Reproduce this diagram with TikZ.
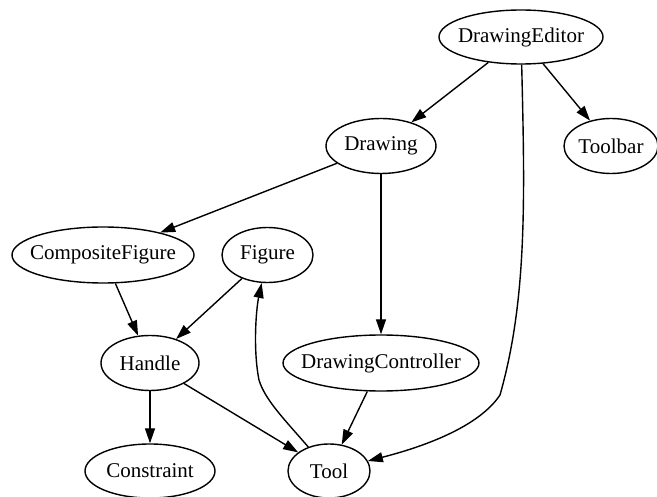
\documentclass[tikz,border=0pt]{standalone}
\usepackage{fontspec}
\setmainfont{Liberation Serif}
\usetikzlibrary{shapes.geometric,arrows.meta}
\begin{document}
\begin{tikzpicture}[x=1pt,y=-1pt,
  cls/.style={ellipse,draw,line width=1.4pt,inner xsep=-40pt,inner ysep=-15pt,
    font=\fontsize{21}{25}\selectfont},
  dep/.style={line width=1.4pt,-{Triangle[length=15pt,width=10pt]}}]
\useasboundingbox (0,0) rectangle (657,497);

% classes
\node[cls,minimum width=164pt,minimum height=54pt] (DE) at (521,37) {DrawingEditor};
\node[cls,minimum width=110pt,minimum height=55pt] (Drawing) at (381,146) {Drawing};
\node[cls,minimum width=94pt,minimum height=55pt] (Toolbar) at (611,146) {Toolbar};
\node[cls,minimum width=182pt,minimum height=56pt] (CF) at (103,255) {CompositeFigure};
\node[cls,minimum width=91pt,minimum height=55pt] (Figure) at (267.5,255) {Figure};
\node[cls,minimum width=98pt,minimum height=55pt] (Handle) at (150,363) {Handle};
\node[cls,minimum width=196pt,minimum height=56pt] (DC) at (381,363) {DrawingController};
\node[cls,minimum width=130pt,minimum height=54pt] (Constraint) at (150,471) {Constraint};
\node[cls,minimum width=82pt,minimum height=54pt] (Tool) at (329,471) {Tool};

% dependencies
\draw[dep] (DE) -- (Drawing);
\draw[dep] (DE) -- (Toolbar);
\draw[dep] (DE) .. controls (525,200) and (527,300) .. (500,395)
               .. controls (480,425) and (430,445) .. (Tool);
\draw[dep] (Drawing) -- (CF);
\draw[dep] (Drawing) -- (DC);
\draw[dep] (CF) -- (Handle);
\draw[dep] (Figure) -- (Handle);
\draw[dep] (Handle) -- (Constraint);
\draw[dep] (Handle) -- (Tool);
\draw[dep] (DC) -- (Tool);
\draw[dep] (Tool) .. controls (285,420) and (265,400) .. (259,380)
                 .. controls (253,350) and (256,310) .. (Figure);
\end{tikzpicture}
\end{document}
